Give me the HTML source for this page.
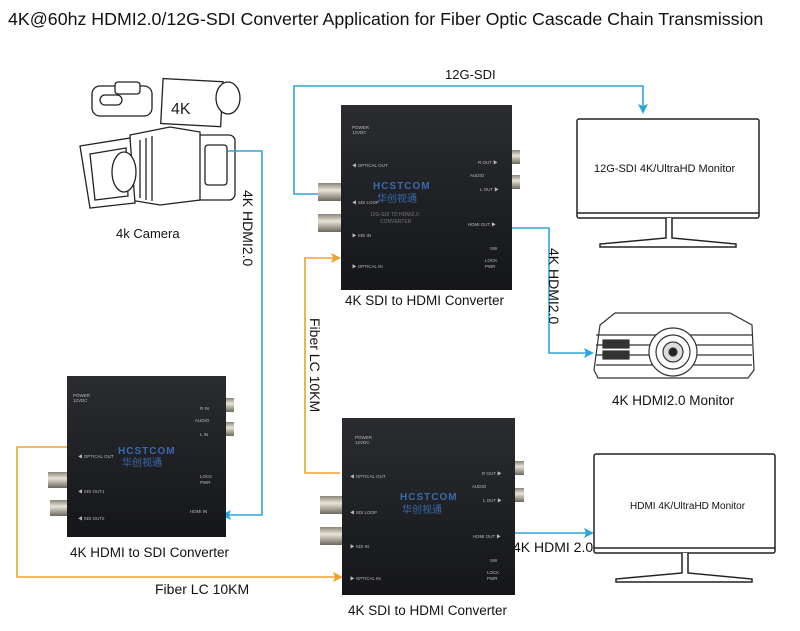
<!DOCTYPE html>
<html><head><meta charset="utf-8"><style>
body{margin:0;background:#fff;width:800px;height:631px;overflow:hidden;font-family:"Liberation Sans",sans-serif}
svg{display:block}
</style></head><body>
<svg width="800" height="631" viewBox="0 0 800 631" xmlns="http://www.w3.org/2000/svg" font-family="Liberation Sans, Noto Sans CJK SC, sans-serif">
<defs>
<linearGradient id="dev" x1="0" y1="0" x2="0" y2="1"><stop offset="0" stop-color="#2a2c30"/><stop offset="1" stop-color="#15161a"/></linearGradient>
<linearGradient id="bnc" x1="0" y1="0" x2="0" y2="1"><stop offset="0" stop-color="#8a8578"/><stop offset=".4" stop-color="#e8e4d8"/><stop offset="1" stop-color="#6b675c"/></linearGradient>
</defs>
<text x="8" y="25" font-size="17.8" fill="#111">4K@60hz HDMI2.0/12G-SDI Converter Application for Fiber Optic Cascade Chain Transmission</text>

<!-- Camera -->
<g fill="#fff" stroke="#222" stroke-width="1.3">
<rect x="92" y="86" width="60" height="30" rx="8"/>
<rect x="115" y="82" width="25" height="12" rx="3"/>
<rect x="100" y="95" width="22" height="10" rx="5"/>
<rect x="155" y="135" width="80" height="65" rx="6"/>
<path d="M130 135 L170 127 L200 132 L200 200 L160 205 L130 200Z"/>
<rect x="162" y="80" width="60" height="45" transform="rotate(3 190 100)"/>
<ellipse cx="228" cy="98" rx="12" ry="16"/>
<path d="M80 146 L130 138 L135 203 L90 208 Z"/>
<path d="M90 154 L126 148 L128 196 L95 200 Z"/>
<ellipse cx="124" cy="172" rx="12" ry="20"/>
<line x1="140" y1="140" x2="140" y2="198"/><line x1="146" y1="138" x2="146" y2="200"/><line x1="152" y1="136" x2="152" y2="201"/>
<rect x="205" y="145" width="22" height="40" rx="3"/>
</g>
<text x="171" y="114" font-size="16" fill="#222">4K</text>
<text x="116" y="238" font-size="13" fill="#111">4k Camera</text>

<!-- Connectors blue -->
<g fill="none" stroke="#2ea5d8" stroke-width="1.6">
<polyline points="228,151 262,151 262,515 228,515"/>
<polyline points="320,194 294,194 294,86 643,86 643,110"/>
<polyline points="507,228 549,228 549,353 588,353"/>
<polyline points="513,533 588,533"/>
</g>
<g fill="#2ea5d8">
<polygon points="221,515 231,510 229,515 231,520"/>
<polygon points="643,114 638,104 643,106 648,104"/>
<polygon points="594,353 584,348 586,353 584,358"/>
<polygon points="594,533 584,528 586,533 584,538"/>
</g>
<!-- Connectors orange -->
<g fill="none" stroke="#eda12e" stroke-width="1.6">
<polyline points="340,473 305,473 305,258 334,258"/>
<polyline points="70,447 17,447 17,577 336,577"/>
</g>
<g fill="#eda12e">
<polygon points="341,258 331,253 333,258 331,263"/>
<polygon points="343,577 333,572 335,577 333,582"/>
</g>

<text transform="translate(243,190) rotate(90)" font-size="14" fill="#111">4K HDMI2.0</text>
<text x="445" y="79" font-size="13" fill="#111">12G-SDI</text>
<text transform="translate(549,248) rotate(90)" font-size="14" fill="#111">4K HDMI2.0</text>
<text transform="translate(310,318) rotate(90)" font-size="14" fill="#111">Fiber LC 10KM</text>
<text x="155" y="594" font-size="14" fill="#111">Fiber LC 10KM</text>
<text x="513" y="552" font-size="14" fill="#111">4K HDMI 2.0</text>

<!-- Device 1 -->
<g>
<rect x="318" y="183" width="24" height="18" fill="url(#bnc)"/>
<rect x="318" y="214" width="24" height="18" fill="url(#bnc)"/>
<rect x="508" y="150" width="12" height="14" fill="url(#bnc)"/>
<rect x="508" y="175" width="12" height="14" fill="url(#bnc)"/>
<rect x="341" y="105" width="171" height="185" fill="url(#dev)"/>
<text x="373" y="189" font-size="10" fill="#3a6ab0" font-weight="bold" letter-spacing="1">HCSTCOM</text>
<text x="377" y="202" font-size="10" fill="#3a6ab0">华创视通</text>
<text x="370" y="216" font-size="5" fill="#777">12G-SDI TO HDMI2.0</text>
<text x="380" y="223" font-size="5" fill="#777">CONVERTER</text>
<g font-size="4.5" fill="#bbb"><text x="352" y="129">POWER</text><text x="352" y="134">12VDC</text><text x="352" y="167">◀ OPTICAL OUT</text><text x="352" y="204">◀ SDI LOOP</text><text x="352" y="237">▶ SDI IN</text><text x="352" y="268">▶ OPTICAL IN</text><text x="478" y="164">R OUT ▶</text><text x="470" y="177">AUDIO</text><text x="480" y="191">L OUT ▶</text><text x="468" y="226">HDMI OUT ▶</text><text x="490" y="250">SW</text><text x="485" y="262">LOCK</text><text x="485" y="268">PWR</text></g>
</g>
<text x="345" y="305" font-size="13.5" fill="#111">4K SDI to HDMI Converter</text>

<!-- Device 2 -->
<g>
<rect x="48" y="472" width="26" height="16" fill="url(#bnc)"/>
<rect x="50" y="500" width="26" height="16" fill="url(#bnc)"/>
<rect x="222" y="398" width="12" height="14" fill="url(#bnc)"/>
<rect x="222" y="422" width="12" height="14" fill="url(#bnc)"/>
<rect x="67" y="376" width="159" height="161" fill="url(#dev)"/>
<text x="118" y="454" font-size="10" fill="#3a6ab0" font-weight="bold" letter-spacing="1">HCSTCOM</text>
<text x="122" y="466" font-size="10" fill="#3a6ab0">华创视通</text>
<g font-size="4.5" fill="#bbb"><text x="73" y="397">POWER</text><text x="73" y="402">12VDC</text><text x="78" y="458">◀ OPTICAL OUT</text><text x="78" y="493">◀ SDI OUT1</text><text x="78" y="520">◀ SDI OUT2</text><text x="200" y="410">R IN</text><text x="195" y="422">AUDIO</text><text x="200" y="436">L IN</text><text x="200" y="478">LOCK</text><text x="200" y="484">PWR</text><text x="190" y="513">HDMI IN</text></g>
</g>
<text x="70" y="557" font-size="13.5" fill="#111">4K HDMI to SDI Converter</text>

<!-- Device 3 -->
<g>
<rect x="320" y="496" width="24" height="18" fill="url(#bnc)"/>
<rect x="320" y="527" width="24" height="18" fill="url(#bnc)"/>
<rect x="512" y="461" width="12" height="14" fill="url(#bnc)"/>
<rect x="512" y="488" width="12" height="14" fill="url(#bnc)"/>
<rect x="342" y="418" width="173" height="177" fill="url(#dev)"/>
<text x="400" y="500" font-size="10" fill="#3a6ab0" font-weight="bold" letter-spacing="1">HCSTCOM</text>
<text x="402" y="513" font-size="10" fill="#3a6ab0">华创视通</text>
<g font-size="4.5" fill="#bbb"><text x="355" y="439">POWER</text><text x="355" y="444">12VDC</text><text x="350" y="478">◀ OPTICAL OUT</text><text x="350" y="514">◀ SDI LOOP</text><text x="350" y="548">▶ SDI IN</text><text x="350" y="580">▶ OPTICAL IN</text><text x="482" y="475">R OUT ▶</text><text x="472" y="488">AUDIO</text><text x="483" y="502">L OUT ▶</text><text x="473" y="538">HDMI OUT ▶</text><text x="490" y="562">SW</text><text x="487" y="574">LOCK</text><text x="487" y="580">PWR</text></g>
</g>
<text x="348" y="615" font-size="13.5" fill="#111">4K SDI to HDMI Converter</text>

<!-- Monitor 1 -->
<g fill="#fff" stroke="#222" stroke-width="1.5">
<rect x="577" y="119" width="182" height="99" rx="2"/>
<line x1="577" y1="213" x2="759" y2="213"/>
<path d="M666 218 L666 238 L600 244 L600 247 L736 247 L736 244 L672 238 L672 218"/>
</g>
<text x="594" y="172" font-size="11" fill="#111">12G-SDI 4K/UltraHD Monitor</text>

<!-- Projector -->
<g fill="#fff" stroke="#333" stroke-width="1.2">
<path d="M600 325 L615 313 L730 313 L752 325 L754 370 L748 378 L598 378 L594 370 Z"/>
<line x1="596" y1="335" x2="752" y2="335"/><line x1="596" y1="345" x2="752" y2="345"/><line x1="596" y1="355" x2="752" y2="355"/><line x1="596" y1="365" x2="752" y2="365"/>
<circle cx="673" cy="352" r="24"/><circle cx="673" cy="352" r="17"/><circle cx="673" cy="352" r="10" fill="#ddd"/><circle cx="673" cy="352" r="4" fill="#222"/>
<rect x="603" y="340" width="26" height="8" fill="#333"/><rect x="603" y="351" width="26" height="8" fill="#333"/>
</g>
<text x="612" y="405" font-size="13.5" fill="#111">4K HDMI2.0 Monitor</text>

<!-- Monitor 2 -->
<g fill="#fff" stroke="#222" stroke-width="1.5">
<rect x="594" y="454" width="181" height="99" rx="2"/>
<line x1="594" y1="548" x2="775" y2="548"/>
<path d="M682 553 L682 573 L616 579 L616 582 L752 582 L752 579 L688 573 L688 553"/>
</g>
<text x="630" y="509" font-size="10" fill="#111">HDMI 4K/UltraHD Monitor</text>
</svg>
</body></html>
